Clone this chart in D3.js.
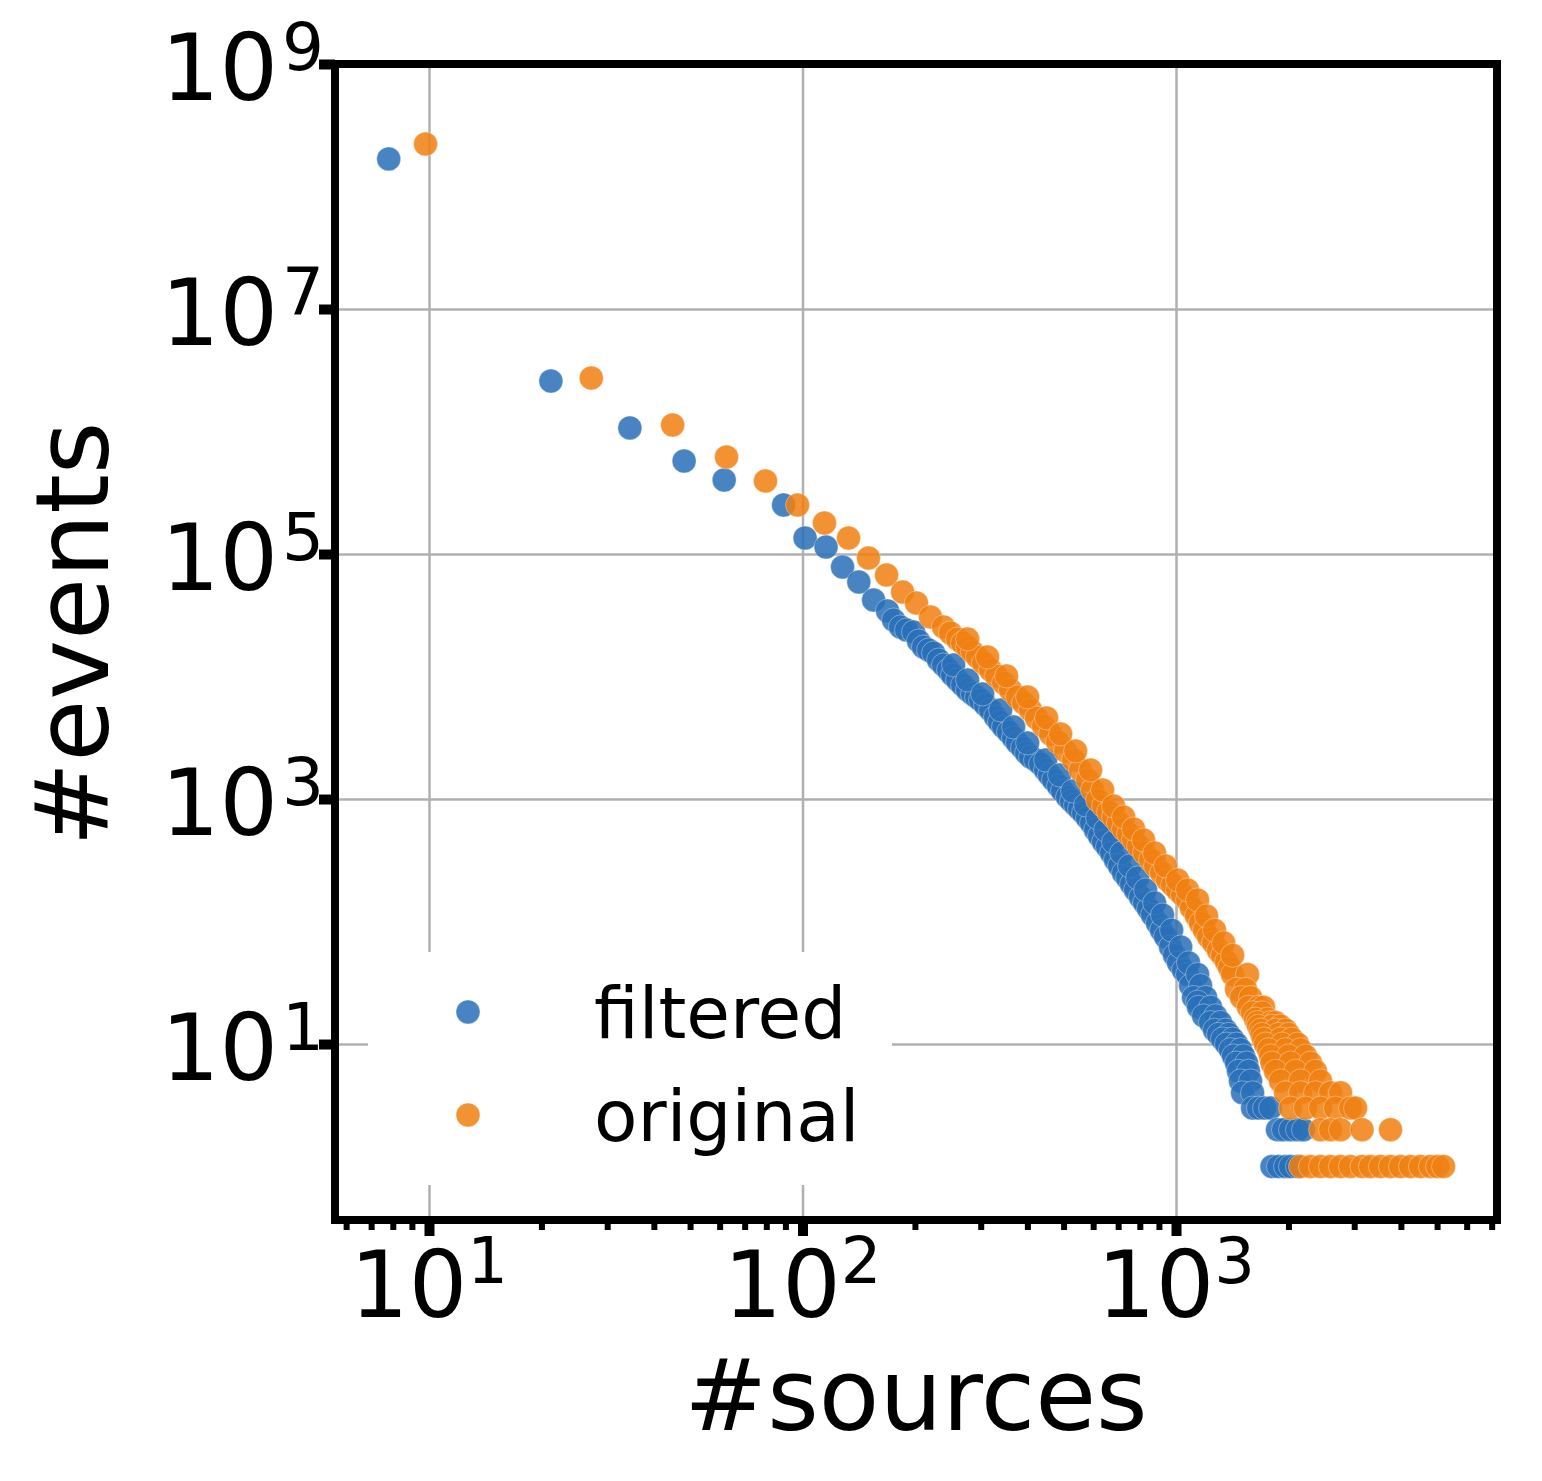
<!DOCTYPE html>
<html>
<head>
<meta charset="utf-8">
<script src="https://cdn.jsdelivr.net/npm/d3@7"></script>
<style>
  html, body { margin: 0; padding: 0; background: #ffffff; }
  svg { display: block; }
  text { font-family: "DejaVu Sans", sans-serif; fill: #000; }
</style>
</head>
<body>
<svg id="chart" width="1542" height="1481"></svg>
<script>
// ---------------- DATA ----------------
const seriesNames = ["filtered", "original"];

// filtered: [#sources, #events]
const filteredPoints = [
  [7.8,1.68e8],[21.2,2.58e6],[34.5,1.07e6],[48.2,5.74e5],[61.7,4.02e5],[89,2.51e5],
  [101.6,1.35e5],[115.6,1.14e5],[128,7.83e4],[141.5,5.91e4],[155,4.21e4],[168.9,3.43e4],
  [175.3,28930],[183.0,25360],[189.9,23970],[198.3,23090],[204.4,19490],[210.8,17410],
  [217.5,16460],[224.3,15560],[231.3,13640],[238.5,12420],[246.0,11306],[252.1,10290],
  [260.0,9367],[268.2,8527],[276.5,7762],[285.2,7200],[292.3,6806],[299.6,6433],
  [309.0,5856],[318.7,5331],[328.6,4672],[336.9,4253],[345.3,3872],[356.1,3524],
  [367.2,3149],[376.4,2866],[388.2,2609],[397.9,2375],[407.8,2203],[420.6,2082],
  [433.7,1931],[447.3,1725],[458.5,1570],[469.9,1429],[484.6,1277],[496.7,1162],
  [512.3,1039],[525.1,963],[538.2,894],[551.6,829],[565.4,769],[579.5,700],
  [594.0,637],[608.8,559],[624.0,499],[639.6,446],[655.6,406],[671.9,363],
  [688.7,318],[705.9,284],[723.5,249],[741.6,227],[760.1,202],[779.1,181],
  [803.5,158],[823.5,142],[844.1,127],[865.1,113],[892.2,97],[914.5,85],
  [937.3,75],[966.7,62],[990.8,53],[1015.5,46],[1047.3,40],[1073.4,37],[1093.5,30],
  // right edge of the dense band
  [253.8,12420],[276.7,9367],[303.5,7200],[339.1,5331],[367.4,3872],[400.5,2866],
  [447.5,2082],[487.8,1570],[528.5,1162],[572.6,894],[616.6,700],[647.8,559],
  [680.5,446],[714.9,363],[751.1,284],[789.1,227],[829,181],[876,142],[920,113],
  [973,85],[1029,62],[1080,46],[1142,37],[1163,30],
  // tail
  [1114,24],[1200,24],[1142,22],[1149,20],[1237,20],[1185,17],[1276,17],
  [1237,15],[1316,15],[1268,13],[1357,13],[1300,12],[1383,12],[1332,11],[1417,11],
  [1365,10],[1452,10],[1399,9],[1488,9],[1425,8],[1516,8],[1452,7],[1544,7],
  [1470,6],[1563,6],[1488,5],[1583,5],[1507,4],[1603,4],
  [1603,3],[1663,3],[1726,3],[1791,3],
  [1869,2],[1940,2],[2026,2],[2115,2],[2194,2],
  [1807,1],[1881,1],[1964,1],[2026,1],[2115,1]
];

// original: [#sources, #events]
const originalPoints = [
  [9.79,2.22e8],[27.2,2.73e6],[44.9,1.13e6],[62.6,6.19e5],[79.6,3.95e5],[97.0,2.51e5],
  [114.5,1.79e5],[132.8,1.35e5],[150.2,9.28e4],[167.9,6.74e4],[185.3,4.90e4],[201.9,3.98e4],
  [220.1,30600],[238.5,25360],[249.0,22655],[260.0,20240],[268.2,18770],[276.5,17410],
  [285.2,15850],[294.1,14430],[305.2,12890],[318.7,11306],[330.7,10096],[345.3,8851],
  [360.5,7762],[376.4,6806],[390.6,6078],[407.8,5331],[423.1,4585],[441.8,3944],
  [461.4,3394],[481.7,2920],[506.0,2465],[531.5,2082],[555.0,1725],[579.5,1429],
  [597.6,1184],[616.3,981],[639.6,877],[659.6,783],[680.3,713],[701.6,637],
  [723.5,569],[746.2,518],[769.5,463],[793.6,413],[823.5,363],[854.6,318],
  [881.3,284],[914.5,249],[949,218],[978.7,199],[1009,181],[1040.8,165],
  [1073.4,150],[1100,129],[1134.7,111],[1163,97],[1192,85],[1221.8,75],
  [1260,67],[1299.5,58],[1332,53],[1365,47],[1391,42],[1417,37],[1554,37],
  // right edge of the dense band
  [276.7,20240],[312.9,14430],[351.9,10096],[400.5,6806],[450.2,4585],[490.9,3394],
  [538.4,2465],[590.5,1725],[635.8,1184],[680.5,877],[723.8,713],[769.8,569],
  [818.7,463],[876.2,363],[937.7,284],[1009.7,218],[1073.6,181],[1142,150],
  [1207,111],[1268,85],[1341,67],[1417,53],
  // tail
  [1452,28],[1535,28],[1497,24],[1583,24],
  [1563,20],[1663,20],[1715,20],[1603,18],[1699,18],[1632,16],[1758,16],
  [1653,15],[1791,15],[1847,15],[1663,14],[1807,14],[1904,14],
  [1684,13],[1847,13],[1964,13],[1699,12],[1881,12],[2001,12],
  [1715,11],[1904,11],[2044,11],[1736,10],[1922,10],[2115,10],
  [1770,9],[1964,9],[2154,9],[1791,8],[2001,8],[2222,8],
  [1807,7],[2026,7],[2291,7],[1847,6],[2089,6],[2363,6],
  [1904,5],[2154,5],[2437,5],
  [1964,4],[2154,4],[2363,4],[2592,4],[2757,4],
  [2026,3],[2222,3],[2437,3],[2673,3],[2932,3],[3024,3],
  [2437,2],[2592,2],[2757,2],[3148,2],[3752,2],
  [2154,1],[2291,1],[2437,1],[2592,1],[2757,1],[2932,1],[3148,1],[3317,1],
  [3528,1],[3752,1],[3991,1],[4245,1],[4515,1],[4802,1],[5014,1],[5203,1]
];

const xMajorTicks = [10, 100, 1000];
const xMajorExponents = ["1", "2", "3"];
const xMinorTicks = [6,7,8,9,20,30,40,50,60,70,80,90,200,300,400,500,600,700,800,900,2000,3000,4000,5000,6000,7000];
const yMajorTicks = [10, 1e3, 1e5, 1e7, 1e9];
const yMajorExponents = ["1", "3", "5", "7", "9"];
const xDomain = [5.602, 7234];
const yDomain = [0.366, 1e9];
const xTitle = "#sources";
const yTitle = "#events";

// ---------------- LAYOUT ----------------
const L = 335, R = 1497, T = 64, B = 1220;
const colors = { filtered: "#2a70b8", original: "#f08010" };

const svg = d3.select("#chart");
const x = d3.scaleLog().domain(xDomain).range([L, R]);
const y = d3.scaleLog().domain(yDomain).range([B, T]);

// gridlines
const gx = svg.append("g").attr("transform", `translate(0,${B})`)
  .call(d3.axisBottom(x).tickValues(xMajorTicks).tickSize(-(B - T)).tickFormat(""));
const gy = svg.append("g").attr("transform", `translate(${L},0)`)
  .call(d3.axisLeft(y).tickValues(yMajorTicks).tickSize(-(R - L)).tickFormat(""));
[gx, gy].forEach(g => {
  g.select(".domain").remove();
  g.selectAll(".tick line").attr("stroke", "#b0b0b0").attr("stroke-width", 2.5);
});

// points
const plot = svg.append("g");
function drawSeries(points, color) {
  plot.append("g").selectAll("circle").data(points).join("circle")
    .attr("cx", d => x(d[0]))
    .attr("cy", d => y(d[1]))
    .attr("r", 12)
    .attr("fill", color)
    .attr("fill-opacity", 0.86)
    .attr("stroke", "#ffffff")
    .attr("stroke-opacity", 0.35)
    .attr("stroke-width", 1);
}
drawSeries(filteredPoints, colors.filtered);
drawSeries(originalPoints, colors.original);

// legend
const lg = svg.append("g");
lg.append("rect").attr("x", 368).attr("y", 952).attr("width", 524).attr("height", 233)
  .attr("rx", 8).attr("fill", "#ffffff");
seriesNames.forEach((name, i) => {
  const cy = 1012 + i * 103;
  lg.append("circle").attr("cx", 468).attr("cy", cy).attr("r", 12)
    .attr("fill", colors[name]).attr("fill-opacity", 0.86)
    .attr("stroke", "#ffffff").attr("stroke-opacity", 0.35);
  lg.append("text").attr("x", 594).attr("y", cy + 26)
    .attr("font-size", 71).text(name);
});

// frame
svg.append("rect").attr("x", L).attr("y", T).attr("width", R - L).attr("height", B - T)
  .attr("fill", "none").attr("stroke", "#000").attr("stroke-width", 8);

// ticks
function styleTicks(g, w) {
  g.select(".domain").remove();
  g.selectAll(".tick line").attr("stroke", "#000").attr("stroke-width", w);
}
svg.append("g").attr("transform", `translate(0,${B})`)
  .call(d3.axisBottom(x).tickValues(xMinorTicks).tickSize(10).tickFormat(""))
  .call(g => styleTicks(g, 6));
svg.append("g").attr("transform", `translate(0,${B})`)
  .call(d3.axisBottom(x).tickValues(xMajorTicks).tickSize(16).tickFormat(""))
  .call(g => styleTicks(g, 10));
svg.append("g").attr("transform", `translate(${L},0)`)
  .call(d3.axisLeft(y).tickValues(yMajorTicks).tickSize(16).tickFormat(""))
  .call(g => styleTicks(g, 10));

// tick labels
const xl = svg.append("g").selectAll("text").data(xMajorTicks).join("text")
  .attr("x", d => x(d)).attr("y", 1317).attr("text-anchor", "middle").attr("font-size", 92);
xl.append("tspan").text("10");
xl.append("tspan").attr("dy", -34).attr("font-size", 64).text((d, i) => xMajorExponents[i]);

const yl = svg.append("g").selectAll("text").data(yMajorTicks).join("text")
  .attr("x", 324).attr("y", d => y(d) + 36).attr("text-anchor", "end").attr("font-size", 92);
yl.append("tspan").text("10");
yl.append("tspan").attr("dx", 4).attr("dy", -30).attr("font-size", 66).text((d, i) => yMajorExponents[i]);

// axis titles
svg.append("text").attr("x", (L + R) / 2).attr("y", 1430).attr("text-anchor", "middle")
  .attr("font-size", 99).text(xTitle);
svg.append("text").attr("transform", `translate(108,${(T + B) / 2 - 8}) rotate(-90)`)
  .attr("text-anchor", "middle").attr("font-size", 101).text(yTitle);
</script>
</body>
</html>
